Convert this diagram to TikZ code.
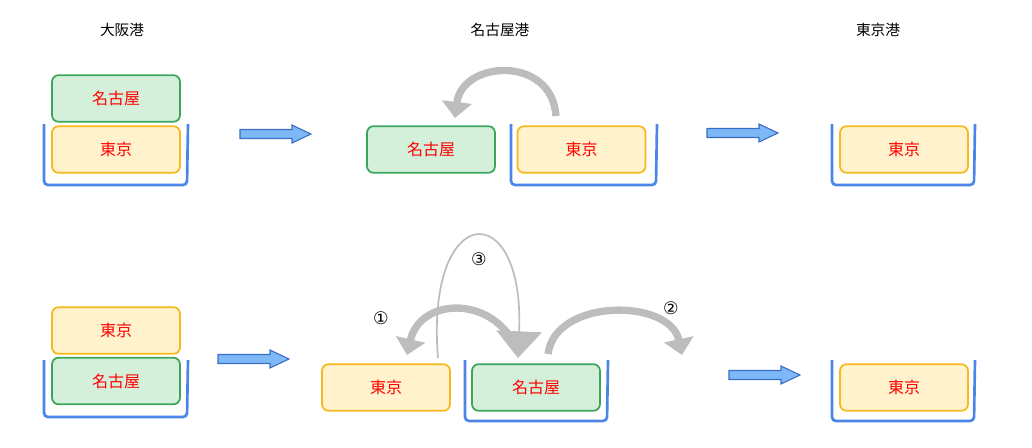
\documentclass[tikz,border=0pt]{standalone}
\usepackage{fontspec}
\newfontfamily\cjk{Noto Sans CJK JP}
\newfontfamily\dv{DejaVu Sans}
\usetikzlibrary{arrows.meta}
\definecolor{gbox}{HTML}{D4F0DB}\definecolor{gline}{HTML}{3BA55C}
\definecolor{ybox}{HTML}{FFF2CC}\definecolor{yline}{HTML}{F6B81A}
\definecolor{cont}{HTML}{4A86E8}\definecolor{barf}{HTML}{7DB8F7}\definecolor{barl}{HTML}{3C6DC4}
\definecolor{arr}{HTML}{BDBDBD}
\tikzset{
 gn/.style={draw=gline,fill=gbox,line width=1.3pt,rounded corners=5pt,minimum width=96pt,minimum height=35pt,font=\cjk\fontsize{12}{12}\selectfont,text=red,inner sep=0pt},
 yn/.style={gn,draw=yline,fill=ybox},
 ttl/.style={font=\cjk\fontsize{11}{11}\selectfont},
 ct/.style={draw=cont,line width=2pt,rounded corners=3pt},
 garr/.style={draw=arr,line width=5.5pt,-{Triangle[width=22pt,length=12pt]}},
 num/.style={font=\dv\fontsize{13}{13}\selectfont,inner sep=0pt}
}
\newcommand{\barrow}[3]{\draw[fill=barf,draw=barl,line width=0.8pt] (#1,#2-4.5)--(#1+52,#2-4.5)--(#1+52,#2-9)--(#3,#2)--(#1+52,#2+9)--(#1+52,#2+4.5)--(#1,#2+4.5)--cycle;}
\begin{document}
\begin{tikzpicture}[x=0.75pt,y=-0.75pt]
\useasboundingbox (0,0) rectangle (1032,447);
\node[ttl] (t1) at (122,30) {大阪港};
\node[ttl] (t2) at (500,30) {名古屋港};
\node[ttl] (t3) at (878,30) {東京港};
% top row
\draw[ct] (44,124)--(44,185)--(187,185)--(188,124);
\node[gn] (a1) at (116,98.5) {名古屋};
\node[yn] (a2) at (116,149.5) {東京};
\barrow{240}{134}{311}
\node[gn] (b1) at (431,149.5) {名古屋};
\draw[ct] (511,124)--(511,185)--(656,185)--(657,124);
\node[yn] (b2) at (581.5,149.5) {東京};
\coordinate (s1) at (556,116);
\coordinate (e1) at (455,118);
\draw[garr] (s1) .. controls (552,55) and (462,60) .. (e1);
\barrow{707}{133}{778}
\draw[ct] (832,124)--(832,185)--(974,185)--(975,124);
\node[yn] (c1) at (904,149.5) {東京};
% bottom row
\node[yn] (d1) at (116,330.5) {東京};
\draw[ct] (44,360)--(44,417)--(187,417)--(188,360);
\node[gn] (d2) at (116,381) {名古屋};
\barrow{218}{359}{289}
\node[yn] (e1n) at (386,387.5) {東京};
\draw[ct] (465,360)--(465,421)--(607,421)--(608,360);
\node[gn] (e2) at (536,387.5) {名古屋};
\coordinate (p1) at (515,345);
\coordinate (q1) at (407,355);
\draw[garr] (p1) .. controls (490,295) and (420,298) .. (q1);
\coordinate (p2) at (548,354);
\coordinate (q2) at (682,355);
\draw[garr] (p2) .. controls (555,298) and (670,298) .. (q2);
\coordinate (p3) at (438,358);
\coordinate (q3) at (518,358);
\draw[draw=arr,line width=1.3pt,-{Triangle[width=34pt,length=20pt,fill=arr]}] (p3) .. controls (425,200) and (525,195) .. (q3);
\node[num] (n1) at (381,318) {①};
\node[num] (n2) at (671,308) {②};
\node[num] (n3) at (479,259) {③};
\barrow{729}{375}{800}
\draw[ct] (832,360)--(832,421)--(974,421)--(975,360);
\node[yn] (f1) at (904,387.5) {東京};
\end{tikzpicture}
\end{document}
